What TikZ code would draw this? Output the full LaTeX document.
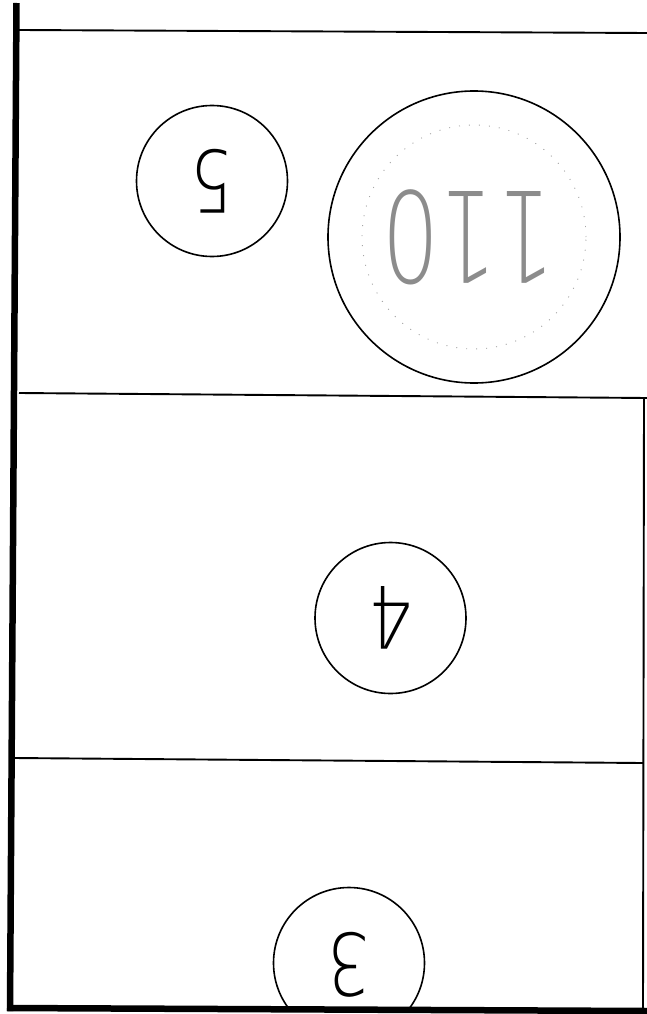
\documentclass[tikz,border=0pt]{standalone}
\usepackage{fontspec}
\newfontfamily\digitfont{DejaVu Sans ExtraLight}
\begin{document}
\begin{tikzpicture}[x=1pt,y=-1pt,
  frame/.style={line width=1.9pt,black},
  heavy/.style={line width=6.5pt,black},
  numcircle/.style={circle,draw,line width=1.6pt,minimum size=151pt,inner sep=0pt},
  numtext/.style={font=\digitfont\fontsize{86}{86}\selectfont,rotate=180},
]
\useasboundingbox (0,0) rectangle (647,1014);
% coordinates of frame
\coordinate (tl) at (16.5,3);
\coordinate (bl) at (10,1011);
\coordinate (t1) at (19,30);
\coordinate (t2) at (647,33);
\coordinate (m1) at (19,393);
\coordinate (m2) at (647,398);
\coordinate (n1) at (14,758);
\coordinate (n2) at (643,763);
\coordinate (r1) at (644,398);
\coordinate (r2) at (643,1008);
\coordinate (b1) at (7,1008);
\coordinate (b2) at (647,1011);
% frame lines
\draw[frame] (t1) -- (t2);
\draw[frame] (m1) -- (m2);
\draw[frame] (n1) -- (n2);
\draw[frame] (r1) -- (r2);
% circles
\node[numcircle] (c5) at (212,181) {};
\node[numtext] (t5) at (c5.center) {\scalebox{0.8}[1]{5}};
\node[circle,draw,line width=1.6pt,minimum size=292pt,inner sep=0pt] (c110) at (474,237) {};
\node[circle,draw=black!35,line width=0.9pt,dash pattern=on 1pt off 9pt,minimum size=224pt,inner sep=0pt] (d110) at (c110.center) {};
\node[font=\digitfont\fontsize{126}{126}\selectfont,rotate=180,text=black!45] (t110) at (468,237) {\scalebox{0.72}[1]{110}};
\node[numcircle] (c4) at (390.5,618) {};
\node[numtext] (t4) at (c4.center) {\scalebox{0.8}[1]{4}};
\begin{scope}
  \clip (0,0) rectangle (647,1007);
  \node[numcircle] (c3) at (349,963) {};
  \node[numtext] (t3) at (349,965) {\scalebox{0.8}[1]{3}};
\end{scope}
% heavy lines
\draw[heavy] (tl) -- (bl);
\draw[heavy] (b1) -- (b2);
\end{tikzpicture}
\end{document}
